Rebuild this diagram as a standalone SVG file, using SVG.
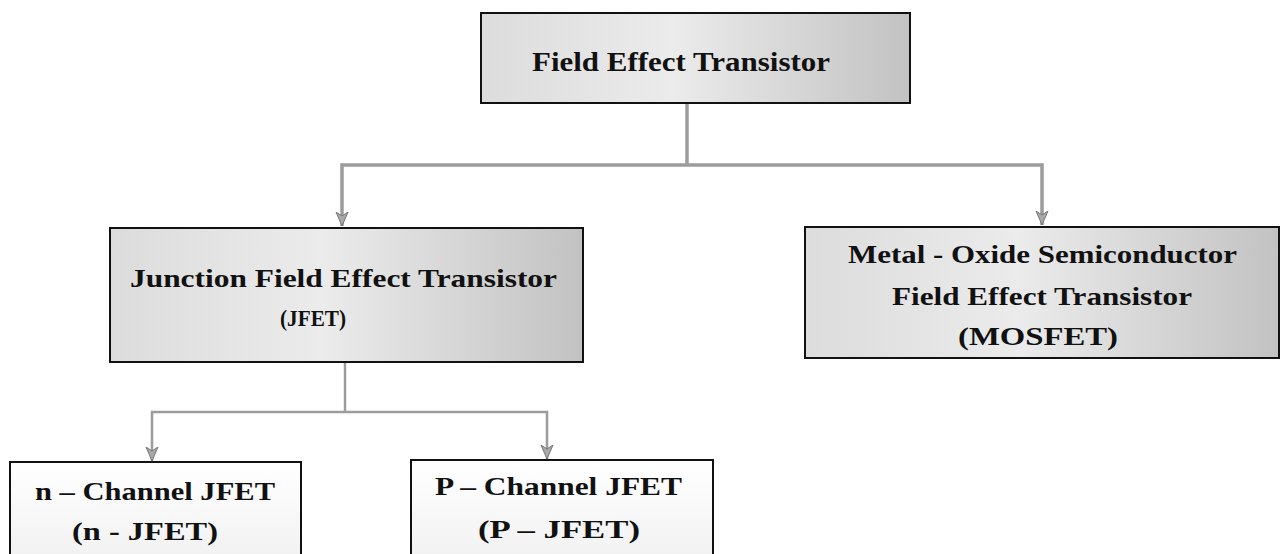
<svg xmlns="http://www.w3.org/2000/svg" width="1281" height="554" viewBox="0 0 1281 554">
<style>
  .box { stroke: #111; stroke-width: 2; }
  .lbl { font-family: "Liberation Serif", "Times New Roman", serif; font-weight: bold; fill: #111; }
  .big { font-size: 28px; }
  .mid { font-size: 25px; }
  .sml { font-size: 23px; }
  .conn { fill: none; stroke: #9c9c9c; stroke-linejoin: miter; }
  .thick { stroke-width: 3.5; }
  .thin { stroke-width: 2.5; }
</style>
<defs>
  <linearGradient id="shade" x1="0" y1="0" x2="1" y2="0">
    <stop offset="0" stop-color="#dcdcdc"/>
    <stop offset="0.45" stop-color="#ebebeb"/>
    <stop offset="1" stop-color="#c2c2c2"/>
  </linearGradient>
  <linearGradient id="pale" x1="0" y1="0" x2="0" y2="1">
    <stop offset="0" stop-color="#ffffff"/>
    <stop offset="1" stop-color="#f1f1f1"/>
  </linearGradient>
  <marker id="arr" markerUnits="userSpaceOnUse" markerWidth="16" markerHeight="16" refX="14" refY="8" orient="auto" viewBox="0 0 16 16">
    <path d="M0,2 L14,8 L0,14 L4,8 z" fill="#a8a8a8" stroke="#777" stroke-width="1"/>
  </marker>
</defs>

<g id="connectors">
  <path class="conn thick" d="M687,103 V165"/>
  <path class="conn thick" d="M687,165 H342 V226" marker-end="url(#arr)"/>
  <path class="conn thick" d="M687,165 H1042 V225" marker-end="url(#arr)"/>
  <path class="conn thin" d="M345,362 V412"/>
  <path class="conn thin" d="M345,412 H152 V461" marker-end="url(#arr)"/>
  <path class="conn thin" d="M345,412 H547 V459" marker-end="url(#arr)"/>
</g>

<g id="node-fet">
  <rect class="box" x="481" y="13" width="429" height="90" fill="url(#shade)"/>
  <text class="lbl big" x="532" y="71" textLength="298" lengthAdjust="spacingAndGlyphs">Field Effect Transistor</text>
</g>

<g id="node-jfet">
  <rect class="box" x="110" y="228" width="473" height="134" fill="url(#shade)"/>
  <text class="lbl mid" x="130" y="287" textLength="427" lengthAdjust="spacingAndGlyphs">Junction Field Effect Transistor</text>
  <text class="lbl sml" x="280" y="326" textLength="66" lengthAdjust="spacingAndGlyphs">(JFET)</text>
</g>

<g id="node-mosfet">
  <rect class="box" x="805" y="227" width="474" height="131" fill="url(#shade)"/>
  <text class="lbl mid" x="848" y="263" textLength="389" lengthAdjust="spacingAndGlyphs">Metal - Oxide Semiconductor</text>
  <text class="lbl mid" x="892" y="305" textLength="300" lengthAdjust="spacingAndGlyphs">Field Effect Transistor</text>
  <text class="lbl mid" x="958" y="345" textLength="160" lengthAdjust="spacingAndGlyphs">(MOSFET)</text>
</g>

<g id="node-njfet">
  <rect class="box" x="10" y="462" width="291" height="100" fill="url(#pale)"/>
  <text class="lbl mid" x="35" y="500" textLength="240" lengthAdjust="spacingAndGlyphs">n – Channel JFET</text>
  <text class="lbl mid" x="72" y="540" textLength="146" lengthAdjust="spacingAndGlyphs">(n - JFET)</text>
</g>

<g id="node-pjfet">
  <rect class="box" x="411" y="460" width="302" height="102" fill="url(#pale)"/>
  <text class="lbl mid" x="435" y="495" textLength="247" lengthAdjust="spacingAndGlyphs">P – Channel JFET</text>
  <text class="lbl mid" x="478" y="538" textLength="162" lengthAdjust="spacingAndGlyphs">(P – JFET)</text>
</g>
</svg>
